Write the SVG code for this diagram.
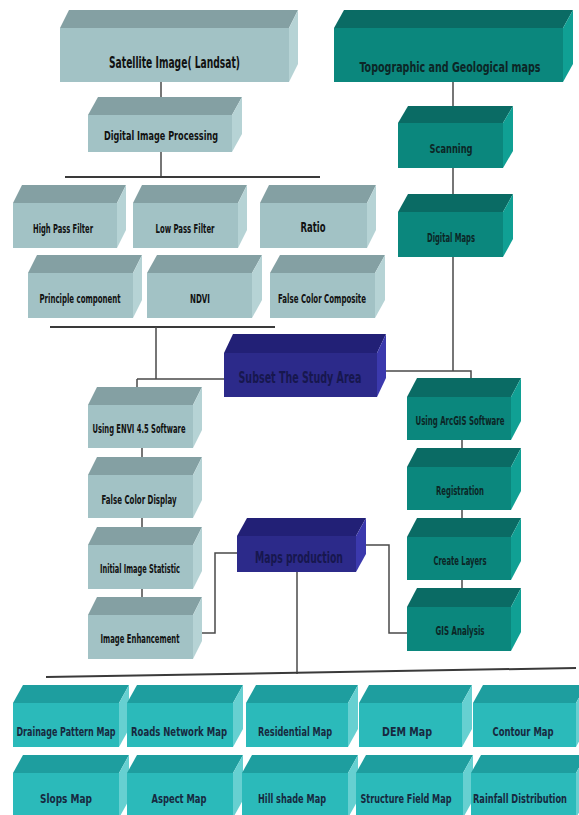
<svg xmlns="http://www.w3.org/2000/svg" width="579" height="815" viewBox="0 0 579 815">
<style>
text{font-family:"Liberation Sans Narrow","DejaVu Sans Condensed","Liberation Sans",sans-serif;font-weight:bold;text-anchor:middle}
.gf{fill:#a2c2c5}.gt{fill:#84a0a3}.gs{fill:#b6d3d5}.gx{fill:#111}
.tf{fill:#0b877d}.tt{fill:#0a6b64}.ts{fill:#10a094}.tx{fill:#0c2626}
.nf{fill:#2c2a8a}.nt{fill:#222076}.ns{fill:#3b39ad}.nx{fill:#17174e}
.cf{fill:#2bbaba}.ct{fill:#1e9e9f}.cs{fill:#66d0d1}.cx{fill:#17293f}
.ln{fill:none;stroke:#4a4a4a;stroke-width:1.5}
.bus{fill:none;stroke:#3a3a3a;stroke-width:2}
</style>
<rect width="579" height="815" fill="#ffffff"/>
<g id="connectors">
<path class="ln" d="M161 82V100M161 152V177"/>
<path class="bus" d="M65 177H320"/>
<path class="ln" d="M453 82V110M453 168V198M453 257V371"/>
<path class="bus" d="M50 327H275"/>
<path class="ln" d="M156 327V379M137 379H226M137 379V392"/>
<path class="ln" d="M385 371H471V384"/>
<path class="ln" d="M142 448V460M142 518V530M142 589V600"/>
<path class="ln" d="M462 440V452M462 510V522M462 580V592"/>
<path class="ln" d="M198 633H215V553H239"/>
<path class="ln" d="M362 545H389V633H409"/>
<path class="ln" d="M297 572V674"/>
<path class="bus" d="M46 677L576 668"/>
</g>
<g id="satellite">
<rect class="gf" x="60" y="28" width="229" height="54"/>
<polygon class="gt" points="60,28 289,28 298,10 69,10"/>
<polygon class="gs" points="289,28 298,10 298,64 289,82"/>
<text class="gx" x="174.5" y="68" font-size="15" textLength="131" lengthAdjust="spacingAndGlyphs">Satellite Image( Landsat)</text>
</g>
<g id="topographic">
<rect class="tf" x="334" y="28" width="229" height="54"/>
<polygon class="tt" points="334,28 563,28 573,10 344,10"/>
<polygon class="ts" points="563,28 573,10 573,64 563,82"/>
<text class="tx" x="450" y="72" font-size="14" textLength="181" lengthAdjust="spacingAndGlyphs">Topographic and Geological maps</text>
</g>
<g id="dip">
<rect class="gf" x="88" y="115" width="144" height="37"/>
<polygon class="gt" points="88,115 232,115 242,97 98,97"/>
<polygon class="gs" points="232,115 242,97 242,134 232,152"/>
<text class="gx" x="161" y="140" font-size="13" textLength="114" lengthAdjust="spacingAndGlyphs">Digital Image Processing</text>
</g>
<g id="scanning">
<rect class="tf" x="398" y="123" width="105" height="45"/>
<polygon class="tt" points="398,123 503,123 513,106 408,106"/>
<polygon class="ts" points="503,123 513,106 513,151 503,168"/>
<text class="tx" x="451" y="153" font-size="13" textLength="43" lengthAdjust="spacingAndGlyphs">Scanning</text>
</g>
<g id="digitalmaps">
<rect class="tf" x="398" y="212" width="105" height="45"/>
<polygon class="tt" points="398,212 503,212 513,194 408,194"/>
<polygon class="ts" points="503,212 513,194 513,239 503,257"/>
<text class="tx" x="451" y="242" font-size="11.5" textLength="48" lengthAdjust="spacingAndGlyphs">Digital Maps</text>
</g>
<g id="highpass">
<rect class="gf" x="13" y="203" width="104" height="45"/>
<polygon class="gt" points="13,203 117,203 126,185 22,185"/>
<polygon class="gs" points="117,203 126,185 126,230 117,248"/>
<text class="gx" x="63" y="233" font-size="12" textLength="60" lengthAdjust="spacingAndGlyphs">High Pass Filter</text>
</g>
<g id="lowpass">
<rect class="gf" x="133" y="203" width="105" height="45"/>
<polygon class="gt" points="133,203 238,203 247,185 142,185"/>
<polygon class="gs" points="238,203 247,185 247,230 238,248"/>
<text class="gx" x="185" y="233" font-size="12" textLength="59" lengthAdjust="spacingAndGlyphs">Low Pass Filter</text>
</g>
<g id="ratio">
<rect class="gf" x="260" y="203" width="107" height="45"/>
<polygon class="gt" points="260,203 367,203 376,185 269,185"/>
<polygon class="gs" points="367,203 376,185 376,230 367,248"/>
<text class="gx" x="313" y="232" font-size="14" textLength="25" lengthAdjust="spacingAndGlyphs">Ratio</text>
</g>
<g id="principle">
<rect class="gf" x="28" y="273" width="105" height="45"/>
<polygon class="gt" points="28,273 133,273 142,255 37,255"/>
<polygon class="gs" points="133,273 142,255 142,300 133,318"/>
<text class="gx" x="80" y="303" font-size="12" textLength="81" lengthAdjust="spacingAndGlyphs">Principle component</text>
</g>
<g id="ndvi">
<rect class="gf" x="147" y="273" width="105" height="45"/>
<polygon class="gt" points="147,273 252,273 262,255 157,255"/>
<polygon class="gs" points="252,273 262,255 262,300 252,318"/>
<text class="gx" x="200" y="303" font-size="12" textLength="20" lengthAdjust="spacingAndGlyphs">NDVI</text>
</g>
<g id="fcc">
<rect class="gf" x="270" y="273" width="105" height="45"/>
<polygon class="gt" points="270,273 375,273 385,255 280,255"/>
<polygon class="gs" points="375,273 385,255 385,300 375,318"/>
<text class="gx" x="322" y="303" font-size="12" textLength="88" lengthAdjust="spacingAndGlyphs">False Color Composite</text>
</g>
<g id="subset">
<rect class="nf" x="224" y="353" width="153" height="44"/>
<polygon class="nt" points="224,353 377,353 386,334 233,334"/>
<polygon class="ns" points="377,353 386,334 386,378 377,397"/>
<text class="nx" x="300" y="383" font-size="16" textLength="123" lengthAdjust="spacingAndGlyphs">Subset The Study Area</text>
</g>
<g id="envi">
<rect class="gf" x="88" y="405" width="105" height="43"/>
<polygon class="gt" points="88,405 193,405 202,387 97,387"/>
<polygon class="gs" points="193,405 202,387 202,430 193,448"/>
<text class="gx" x="139" y="433" font-size="11.5" textLength="93" lengthAdjust="spacingAndGlyphs">Using ENVI 4.5 Software</text>
</g>
<g id="fcd">
<rect class="gf" x="88" y="475" width="105" height="43"/>
<polygon class="gt" points="88,475 193,475 202,457 97,457"/>
<polygon class="gs" points="193,475 202,457 202,500 193,518"/>
<text class="gx" x="139" y="504" font-size="12" textLength="75" lengthAdjust="spacingAndGlyphs">False Color Display</text>
</g>
<g id="iis">
<rect class="gf" x="88" y="545" width="105" height="44"/>
<polygon class="gt" points="88,545 193,545 202,527 97,527"/>
<polygon class="gs" points="193,545 202,527 202,571 193,589"/>
<text class="gx" x="140" y="573" font-size="12" textLength="80" lengthAdjust="spacingAndGlyphs">Initial Image Statistic</text>
</g>
<g id="ie">
<rect class="gf" x="88" y="615" width="105" height="44"/>
<polygon class="gt" points="88,615 193,615 202,597 97,597"/>
<polygon class="gs" points="193,615 202,597 202,641 193,659"/>
<text class="gx" x="140" y="643" font-size="12" textLength="79" lengthAdjust="spacingAndGlyphs">Image Enhancement</text>
</g>
<g id="arcgis">
<rect class="tf" x="407" y="397" width="104" height="43"/>
<polygon class="tt" points="407,397 511,397 521,378 417,378"/>
<polygon class="ts" points="511,397 521,378 521,421 511,440"/>
<text class="tx" x="460" y="425" font-size="11.5" textLength="89" lengthAdjust="spacingAndGlyphs">Using ArcGIS Software</text>
</g>
<g id="registration">
<rect class="tf" x="407" y="467" width="104" height="43"/>
<polygon class="tt" points="407,467 511,467 521,448 417,448"/>
<polygon class="ts" points="511,467 521,448 521,491 511,510"/>
<text class="tx" x="460" y="495" font-size="11.5" textLength="48" lengthAdjust="spacingAndGlyphs">Registration</text>
</g>
<g id="createlayers">
<rect class="tf" x="407" y="537" width="104" height="43"/>
<polygon class="tt" points="407,537 511,537 521,518 417,518"/>
<polygon class="ts" points="511,537 521,518 521,561 511,580"/>
<text class="tx" x="460" y="565" font-size="12" textLength="53" lengthAdjust="spacingAndGlyphs">Create Layers</text>
</g>
<g id="gis">
<rect class="tf" x="407" y="607" width="104" height="44"/>
<polygon class="tt" points="407,607 511,607 521,588 417,588"/>
<polygon class="ts" points="511,607 521,588 521,632 511,651"/>
<text class="tx" x="460" y="635" font-size="12" textLength="49" lengthAdjust="spacingAndGlyphs">GIS Analysis</text>
</g>
<g id="mapsproduction">
<rect class="nf" x="237" y="536" width="119" height="36"/>
<polygon class="nt" points="237,536 356,536 366,518 247,518"/>
<polygon class="ns" points="356,536 366,518 366,554 356,572"/>
<text class="nx" x="299" y="563" font-size="15" textLength="88" lengthAdjust="spacingAndGlyphs">Maps production</text>
</g>
<g id="drainage">
<rect class="cf" x="13" y="703" width="106" height="44"/>
<polygon class="ct" points="13,703 119,703 129,685 23,685"/>
<polygon class="cs" points="119,703 129,685 129,729 119,747"/>
<text class="cx" x="66" y="736" font-size="12.5" textLength="99" lengthAdjust="spacingAndGlyphs">Drainage Pattern Map</text>
</g>
<g id="roads">
<rect class="cf" x="127" y="703" width="106" height="44"/>
<polygon class="ct" points="127,703 233,703 243,685 137,685"/>
<polygon class="cs" points="233,703 243,685 243,729 233,747"/>
<text class="cx" x="179" y="736" font-size="12.5" textLength="96" lengthAdjust="spacingAndGlyphs">Roads Network Map</text>
</g>
<g id="residential">
<rect class="cf" x="246" y="703" width="102" height="44"/>
<polygon class="ct" points="246,703 348,703 358,685 256,685"/>
<polygon class="cs" points="348,703 358,685 358,729 348,747"/>
<text class="cx" x="295" y="736" font-size="13" textLength="74" lengthAdjust="spacingAndGlyphs">Residential Map</text>
</g>
<g id="dem">
<rect class="cf" x="359" y="703" width="103" height="44"/>
<polygon class="ct" points="359,703 462,703 472,685 369,685"/>
<polygon class="cs" points="462,703 472,685 472,729 462,747"/>
<text class="cx" x="407" y="736" font-size="13" textLength="50" lengthAdjust="spacingAndGlyphs">DEM Map</text>
</g>
<g id="contour">
<rect class="cf" x="473" y="703" width="103" height="44"/>
<polygon class="ct" points="473,703 576,703 586,685 483,685"/>
<polygon class="cs" points="576,703 586,685 586,729 576,747"/>
<text class="cx" x="523" y="736" font-size="13" textLength="61" lengthAdjust="spacingAndGlyphs">Contour Map</text>
</g>
<g id="slops">
<rect class="cf" x="13" y="773" width="106" height="45"/>
<polygon class="ct" points="13,773 119,773 129,755 23,755"/>
<polygon class="cs" points="119,773 129,755 129,800 119,818"/>
<text class="cx" x="66" y="803" font-size="13" textLength="52" lengthAdjust="spacingAndGlyphs">Slops Map</text>
</g>
<g id="aspect">
<rect class="cf" x="127" y="773" width="106" height="45"/>
<polygon class="ct" points="127,773 233,773 243,755 137,755"/>
<polygon class="cs" points="233,773 243,755 243,800 233,818"/>
<text class="cx" x="179" y="803" font-size="13" textLength="55" lengthAdjust="spacingAndGlyphs">Aspect Map</text>
</g>
<g id="hillshade">
<rect class="cf" x="242" y="773" width="106" height="45"/>
<polygon class="ct" points="242,773 348,773 358,755 252,755"/>
<polygon class="cs" points="348,773 358,755 358,800 348,818"/>
<text class="cx" x="292" y="803" font-size="13" textLength="68" lengthAdjust="spacingAndGlyphs">Hill shade Map</text>
</g>
<g id="structure">
<rect class="cf" x="356" y="773" width="107" height="45"/>
<polygon class="ct" points="356,773 463,773 473,755 366,755"/>
<polygon class="cs" points="463,773 473,755 473,800 463,818"/>
<text class="cx" x="406" y="803" font-size="12.5" textLength="91" lengthAdjust="spacingAndGlyphs">Structure Field Map</text>
</g>
<g id="rainfall">
<rect class="cf" x="471" y="773" width="105" height="45"/>
<polygon class="ct" points="471,773 576,773 586,755 481,755"/>
<polygon class="cs" points="576,773 586,755 586,800 576,818"/>
<text class="cx" x="520" y="803" font-size="12.5" textLength="94" lengthAdjust="spacingAndGlyphs">Rainfall Distribution</text>
</g>
</svg>
